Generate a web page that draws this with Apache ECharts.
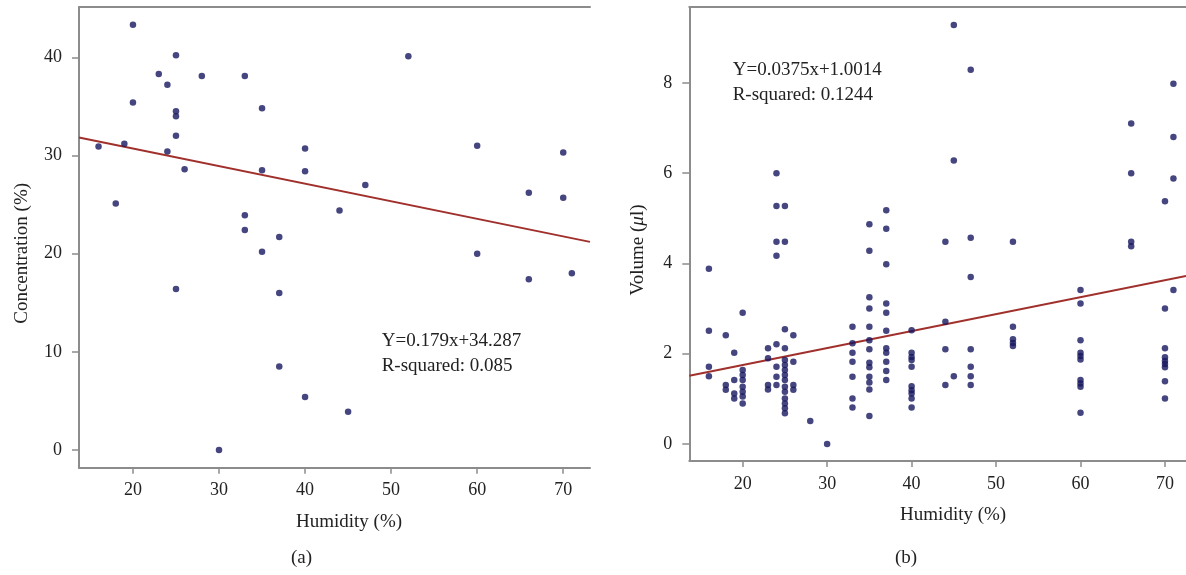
<!DOCTYPE html>
<html>
<head>
<meta charset="utf-8">
<title>Humidity scatter plots</title>
<script src="https://cdn.jsdelivr.net/npm/echarts@6/dist/echarts.min.js"></script>
<style>
  html, body { margin: 0; padding: 0; background: #fff; }
  #chart { width: 1186px; height: 575px; }
</style>
</head>
<body>
<div id="chart"></div>
<script>
// (a) humidity vs concentration
const humidityA = [16, 18, 19, 20, 20, 23, 24, 24, 25, 25, 25, 25, 25, 26, 28, 30, 33, 33, 33, 35, 35, 35,
  37, 37, 37, 40, 40, 40, 44, 45, 47, 52, 60, 60, 66, 66, 70, 70, 71];
const concentrationA = [30.9, 25.1, 31.2, 43.3, 35.4, 38.3, 37.2, 30.4, 40.2, 34.5, 34.0, 32.0, 16.4, 28.6, 38.1, 0, 38.1, 23.9, 22.4, 34.8, 28.5, 20.2,
  21.7, 16.0, 8.5, 30.7, 28.4, 5.4, 24.4, 3.9, 27.0, 40.1, 31.0, 20.0, 26.2, 17.4, 30.3, 25.7, 18.0];
const fitA = { slope: -0.179, intercept: 34.287 };
const labelA = ['Y=0.179x+34.287', 'R-squared: 0.085'];

// (b) humidity vs volume, grouped by humidity level
const humidityLevelsB = [16, 18, 19, 20, 23, 24, 25, 26, 28, 30, 33, 35, 37, 40, 44, 45, 47, 52, 60, 66, 70, 71];
const volumeByLevelB = [
  [3.88, 2.51, 1.71, 1.50],
  [2.41, 1.31, 1.20],
  [2.02, 1.42, 1.12, 1.01],
  [2.91, 1.64, 1.53, 1.42, 1.27, 1.16, 1.05, 0.90],
  [2.12, 1.90, 1.31, 1.21],
  [6.0, 5.27, 4.48, 4.17, 2.21, 1.71, 1.49, 1.31],
  [5.27, 4.48, 2.54, 2.12, 1.86, 1.75, 1.64, 1.53, 1.42, 1.27, 1.16, 1.01, 0.90, 0.79, 0.68],
  [2.41, 1.82, 1.31, 1.20],
  [0.51],
  [0],
  [2.60, 2.23, 2.02, 1.82, 1.49, 1.01, 0.81],
  [4.87, 4.28, 3.25, 3.0, 2.60, 2.30, 2.10, 1.80, 1.70, 1.49, 1.36, 1.21, 0.62],
  [5.18, 4.77, 3.98, 3.11, 2.91, 2.51, 2.12, 2.02, 1.82, 1.62, 1.42],
  [2.52, 2.02, 1.93, 1.86, 1.71, 1.28, 1.19, 1.12, 1.01, 0.81],
  [4.48, 2.71, 2.10, 1.31],
  [9.28, 6.28, 1.50],
  [8.29, 4.57, 3.70, 2.10, 1.71, 1.50, 1.31],
  [4.48, 2.60, 2.32, 2.24, 2.17],
  [3.41, 3.11, 2.30, 2.02, 1.95, 1.87, 1.42, 1.34, 1.27, 0.69],
  [7.10, 6.0, 4.48, 4.38],
  [5.38, 3.0, 2.12, 1.92, 1.84, 1.77, 1.70, 1.39, 1.01],
  [7.98, 6.80, 5.88, 3.41]
];
const fitB = { slope: 0.0375, intercept: 1.0014 };
const labelB = ['Y=0.0375x+1.0014', 'R-squared: 0.1244'];

const xTicks = [20, 30, 40, 50, 60, 70];
const yTicksA = [0, 10, 20, 30, 40];
const yTicksB = [0, 2, 4, 6, 8];

const rangeA = { xMin: 13.73, xMax: 73.11, yMin: -1.8, yMax: 45.12 };
const rangeB = { xMin: 13.68, xMax: 72.49, yMin: -0.376, yMax: 9.68 };

const FONT = 'Liberation Serif';
const DOT = '#17175f';
const FIT = '#a0302c';
const AXIS = '#8c8c8c';

const pointsA = humidityA.map((h, i) => [h, concentrationA[i]]);
const pointsB = [];
humidityLevelsB.forEach((h, i) => volumeByLevelB[i].forEach(v => pointsB.push([h, v])));

function fitLine(fit, r) {
  return [r.xMin, r.xMax].map(x => [x, fit.slope * x + fit.intercept]);
}

function xAxisFor(gridIndex, r, pad) {
  return {
    type: 'value', gridIndex: gridIndex, min: r.xMin, max: r.xMax,
    name: 'Humidity (%)', nameLocation: 'middle', nameGap: 45,
    nameTextStyle: { fontFamily: FONT, fontSize: 19, color: '#222', padding: pad },
    axisLine: { onZero: false, lineStyle: { color: AXIS, width: 2 } },
    axisTick: { length: 6, lineStyle: { color: AXIS, width: 1.5 }, customValues: xTicks },
    axisLabel: { fontFamily: FONT, fontSize: 18, color: '#222', margin: 14, customValues: xTicks },
    splitLine: { show: false }
  };
}

function topFrame(gridIndex, r) {
  return {
    type: 'value', gridIndex: gridIndex, position: 'top', min: r.xMin, max: r.xMax,
    axisLine: { onZero: false, lineStyle: { color: AXIS, width: 2 } },
    axisTick: { show: false }, axisLabel: { show: false }, splitLine: { show: false }
  };
}

function yAxisFor(gridIndex, r, ticks, name, gap) {
  return {
    type: 'value', gridIndex: gridIndex, min: r.yMin, max: r.yMax,
    name: name, nameLocation: 'middle', nameGap: gap,
    nameTextStyle: {
      fontFamily: FONT, fontSize: 19, color: '#222', padding: [0, 32, 0, 0],
      rich: { i: { fontFamily: FONT, fontSize: 19, fontStyle: 'italic', color: '#222' } }
    },
    axisLine: { show: true, onZero: false, lineStyle: { color: AXIS, width: 2 } },
    axisTick: { show: true, length: 7, lineStyle: { color: AXIS, width: 1.5 }, customValues: ticks },
    axisLabel: { fontFamily: FONT, fontSize: 18, color: '#222', margin: 17, customValues: ticks },
    splitLine: { show: false }
  };
}

function noteText(x, y, lines) {
  return {
    type: 'text', left: x, top: y,
    style: { text: lines.join('\n'), font: '19px "' + FONT + '"', fill: '#222', lineHeight: 25 }
  };
}

const chart = echarts.init(document.getElementById('chart'));
chart.setOption({
  animation: false,
  backgroundColor: '#fff',
  grid: [
    { left: 79, top: 7, width: 511, height: 460.7, outerBoundsMode: 'none' },
    { left: 689.3, top: 7, width: 496.7, height: 454, outerBoundsMode: 'none' }
  ],
  xAxis: [
    xAxisFor(0, rangeA, [0, 0, 0, 29]),
    xAxisFor(1, rangeB, [0, 0, 0, 31]),
    topFrame(0, rangeA),
    topFrame(1, rangeB)
  ],
  yAxis: [
    yAxisFor(0, rangeA, yTicksA, 'Concentration (%)', 47),
    yAxisFor(1, rangeB, yTicksB, 'Volume ({i|μ}l)', 42)
  ],
  series: [
    {
      type: 'line', xAxisIndex: 0, yAxisIndex: 0, data: fitLine(fitA, rangeA),
      symbol: 'none', lineStyle: { color: FIT, width: 2 }, z: 2
    },
    {
      type: 'scatter', xAxisIndex: 0, yAxisIndex: 0, data: pointsA,
      symbolSize: 6.5, itemStyle: { color: DOT }, z: 3
    },
    {
      type: 'line', xAxisIndex: 1, yAxisIndex: 1, data: fitLine(fitB, rangeB),
      symbol: 'none', lineStyle: { color: FIT, width: 2 }, z: 2
    },
    {
      type: 'scatter', xAxisIndex: 1, yAxisIndex: 1, data: pointsB,
      symbolSize: 6.5, itemStyle: { color: DOT }, z: 3
    }
  ],
  graphic: [
    noteText(381.7, 329, labelA),
    noteText(732.7, 57.5, labelB),
    { type: 'text', left: 291, top: 549, style: { text: '(a)', font: '19px "' + FONT + '"', fill: '#222' } },
    { type: 'text', left: 895, top: 549, style: { text: '(b)', font: '19px "' + FONT + '"', fill: '#222' } }
  ]
});
</script>
</body>
</html>
